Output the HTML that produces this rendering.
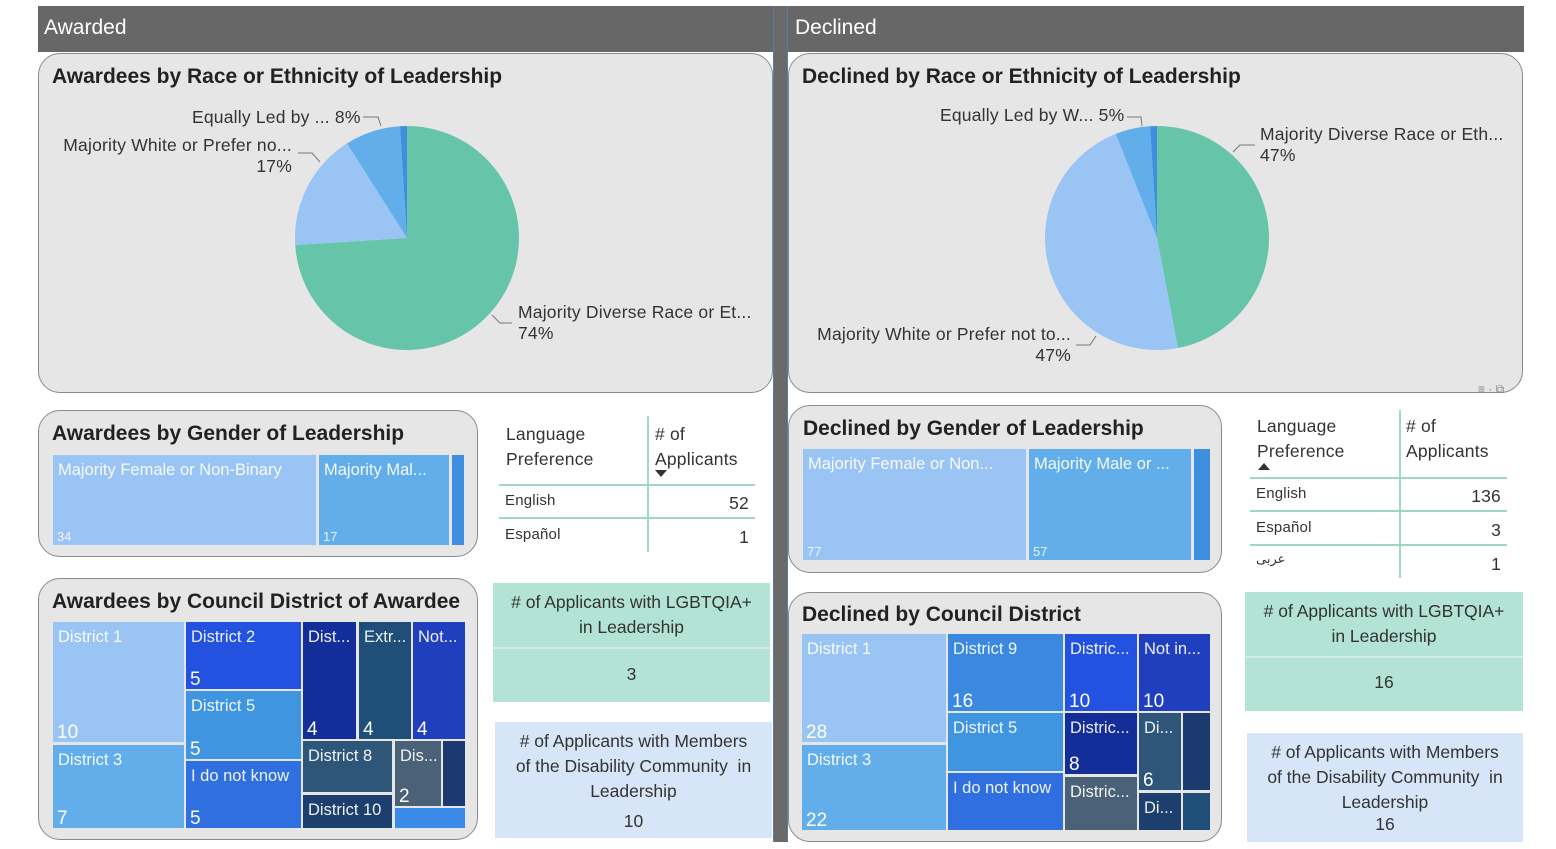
<!DOCTYPE html>
<html><head><meta charset="utf-8"><style>
*{margin:0;padding:0;box-sizing:border-box}
body{width:1556px;height:849px;background:#fff;position:relative;overflow:hidden;font-family:"Liberation Sans","Noto Sans CJK SC",sans-serif;color:#252423}
.a{position:absolute}
.panel{position:absolute;background:#e6e6e6;border:1px solid #8a8a8a;border-radius:22px}
.title{position:absolute;font-weight:bold;font-size:21px;color:#222;white-space:nowrap}
.r{position:absolute;color:#fff;overflow:hidden;white-space:nowrap}
.r .l{position:absolute;left:5px;top:6px;font-size:16.5px;color:rgba(255,255,255,.92)}
.r .v{position:absolute;left:4px;bottom:-2px;font-size:19px}
.r .vs{position:absolute;left:4px;bottom:1px;font-size:13px;color:rgba(255,255,255,.85)}
.t{position:absolute;font-size:17.5px;white-space:nowrap;color:#333;letter-spacing:0.2px}
.hl{position:absolute;height:2px;background:#9fd6c8}
.vl{position:absolute;width:2px;background:#9fd6c8}
.c{position:absolute;text-align:center;font-size:17.5px;color:#333;line-height:25px}
</style></head><body>
<div class="a" style="left:38px;top:6px;width:736px;height:46px;background:#676767"></div>
<div class="a" style="left:788px;top:6px;width:736px;height:46px;background:#676767"></div>
<div class="a" style="left:773px;top:6px;width:15px;height:836px;background:#6a6a6a;border-left:1px solid #5b7aa8;border-right:1px solid #5b7aa8"></div>
<div class="a" style="left:44px;top:16px;font-size:21px;color:#fff">Awarded</div>
<div class="a" style="left:795px;top:16px;font-size:21px;color:#fff">Declined</div>

<div class="panel" style="left:38px;top:53px;width:735px;height:340px"></div>
<div class="panel" style="left:788px;top:53px;width:735px;height:340px"></div>
<div class="title" style="left:52px;top:65px">Awardees by Race or Ethnicity of Leadership</div>
<div class="title" style="left:802px;top:65px">Declined by Race or Ethnicity of Leadership</div>
<svg id="pies" class="a" style="left:0;top:0" width="1556" height="849"></svg>
<div class="t" style="left:192px;top:107px">Equally Led by ... 8%</div>
<div class="t" style="right:1264px;top:135px;text-align:right">Majority White or Prefer no...<br>17%</div>
<div class="t" style="left:518px;top:302px">Majority Diverse Race or Et...<br>74%</div>
<div class="t" style="left:940px;top:105px">Equally Led by W... 5%</div>
<div class="t" style="left:1260px;top:124px">Majority Diverse Race or Eth...<br>47%</div>
<div class="t" style="right:485px;top:324px;text-align:right">Majority White or Prefer not to...<br>47%</div>
<div class="a" style="left:1478px;top:382px;font-size:12px;color:#888">≡ · ⧉</div>

<div class="panel" style="left:38px;top:410px;width:440px;height:147px"></div>
<div class="title" style="left:52px;top:422px">Awardees by Gender of Leadership</div>
<div class="r" style="left:53px;top:455px;width:263px;height:90px;background:#99c4f4"><span class="l">Majority Female or Non-Binary</span><span class="vs">34</span></div>
<div class="r" style="left:319px;top:455px;width:130px;height:90px;background:#62aeea"><span class="l">Majority Mal...</span><span class="vs">17</span></div>
<div class="r" style="left:452px;top:455px;width:12px;height:90px;background:#3f8fe0"></div>

<div class="panel" style="left:788px;top:405px;width:434px;height:168px"></div>
<div class="title" style="left:803px;top:417px">Declined by Gender of Leadership</div>
<div class="r" style="left:803px;top:449px;width:223px;height:111px;background:#99c4f4"><span class="l">Majority Female or Non...</span><span class="vs">77</span></div>
<div class="r" style="left:1029px;top:449px;width:162px;height:111px;background:#62aeea"><span class="l">Majority Male or ...</span><span class="vs">57</span></div>
<div class="r" style="left:1194px;top:449px;width:16px;height:111px;background:#3f8fe0"></div>

<div class="panel" style="left:38px;top:578px;width:440px;height:262px"></div>
<div class="title" style="left:52px;top:590px">Awardees by Council District of Awardee</div>
<div class="r" style="left:53px;top:622px;width:131px;height:120px;background:#99c4f4"><span class="l">District 1</span><span class="v">10</span></div>
<div class="r" style="left:53px;top:745px;width:131px;height:83px;background:#62aeea"><span class="l">District 3</span><span class="v">7</span></div>
<div class="r" style="left:186px;top:622px;width:115px;height:67px;background:#2352e0"><span class="l">District 2</span><span class="v">5</span></div>
<div class="r" style="left:186px;top:691px;width:115px;height:68px;background:#3f95e0"><span class="l">District 5</span><span class="v">5</span></div>
<div class="r" style="left:186px;top:761px;width:115px;height:67px;background:#2f6fe0"><span class="l">I do not know</span><span class="v">5</span></div>
<div class="r" style="left:303px;top:622px;width:53px;height:117px;background:#142e99"><span class="l">Dist...</span><span class="v">4</span></div>
<div class="r" style="left:359px;top:622px;width:52px;height:117px;background:#1f4e79"><span class="l">Extr...</span><span class="v">4</span></div>
<div class="r" style="left:413px;top:622px;width:52px;height:117px;background:#1f3fbf"><span class="l">Not...</span><span class="v">4</span></div>
<div class="r" style="left:303px;top:741px;width:89px;height:51px;background:#2e5678"><span class="l">District 8</span></div>
<div class="r" style="left:303px;top:795px;width:89px;height:33px;background:#1c3f6e"><span class="l">District 10</span></div>
<div class="r" style="left:395px;top:741px;width:46px;height:65px;background:#4a6178"><span class="l">Dis...</span><span class="v">2</span></div>
<div class="r" style="left:443px;top:741px;width:22px;height:65px;background:#1a3a70"></div>
<div class="r" style="left:395px;top:808px;width:70px;height:20px;background:#3a8be8"></div>

<div class="panel" style="left:788px;top:592px;width:434px;height:250px"></div>
<div class="title" style="left:802px;top:603px">Declined by Council District</div>
<div class="r" style="left:802px;top:634px;width:144px;height:108px;background:#99c4f4"><span class="l">District 1</span><span class="v">28</span></div>
<div class="r" style="left:802px;top:745px;width:144px;height:85px;background:#62aeea"><span class="l">District 3</span><span class="v">22</span></div>
<div class="r" style="left:948px;top:634px;width:115px;height:77px;background:#3a88e0"><span class="l">District 9</span><span class="v">16</span></div>
<div class="r" style="left:948px;top:713px;width:115px;height:58px;background:#3f95e0"><span class="l">District 5</span></div>
<div class="r" style="left:948px;top:773px;width:115px;height:57px;background:#2f6fe0"><span class="l">I do not know</span></div>
<div class="r" style="left:1065px;top:634px;width:72px;height:77px;background:#2352e0"><span class="l">Distric...</span><span class="v">10</span></div>
<div class="r" style="left:1139px;top:634px;width:71px;height:77px;background:#1f3fbf"><span class="l">Not in...</span><span class="v">10</span></div>
<div class="r" style="left:1065px;top:713px;width:72px;height:61px;background:#142e99"><span class="l">Distric...</span><span class="v">8</span></div>
<div class="r" style="left:1065px;top:777px;width:72px;height:53px;background:#4a6178"><span class="l">Distric...</span></div>
<div class="r" style="left:1139px;top:713px;width:42px;height:77px;background:#2e5678"><span class="l">Di...</span><span class="v">6</span></div>
<div class="r" style="left:1183px;top:713px;width:27px;height:77px;background:#1a3a70"></div>
<div class="r" style="left:1139px;top:793px;width:42px;height:37px;background:#1c3f6e"><span class="l">Di...</span></div>
<div class="r" style="left:1183px;top:793px;width:27px;height:37px;background:#1f4e79"></div>

<div class="a" style="left:499px;top:416px;width:256px;height:136px">
<div class="vl" style="left:148px;top:0;height:136px"></div>
<div class="t" style="left:7px;top:6px;line-height:25px">Language<br>Preference</div>
<div class="t" style="left:156px;top:6px;line-height:25px"># of<br>Applicants</div>
<div class="a" style="left:156px;top:54px;width:0;height:0;border-left:6px solid transparent;border-right:6px solid transparent;border-top:7px solid #333"></div>
<div class="hl" style="left:0;top:68px;width:256px"></div>
<div class="t" style="left:6px;top:76px;font-size:15px">English</div>
<div class="t" style="right:6px;top:77px">52</div>
<div class="hl" style="left:0;top:101px;width:256px"></div>
<div class="t" style="left:6px;top:110px;font-size:15px">Español</div>
<div class="t" style="right:6px;top:111px">1</div>
</div>
<div class="a" style="left:1250px;top:410px;width:257px;height:168px">
<div class="vl" style="left:149px;top:0;height:168px"></div>
<div class="t" style="left:7px;top:4px;line-height:25px">Language<br>Preference</div>
<div class="t" style="left:156px;top:4px;line-height:25px"># of<br>Applicants</div>
<div class="a" style="left:8px;top:53px;width:0;height:0;border-left:6px solid transparent;border-right:6px solid transparent;border-bottom:7px solid #333"></div>
<div class="hl" style="left:0;top:67px;width:257px"></div>
<div class="t" style="left:6px;top:75px;font-size:15px">English</div>
<div class="t" style="right:6px;top:76px">136</div>
<div class="hl" style="left:0;top:100px;width:257px"></div>
<div class="t" style="left:6px;top:109px;font-size:15px">Español</div>
<div class="t" style="right:6px;top:110px">3</div>
<div class="hl" style="left:0;top:134px;width:257px"></div>
<div class="t" style="left:6px;top:142px;font-size:13px;font-family:'DejaVu Sans',sans-serif">عربى</div>
<div class="t" style="right:6px;top:144px">1</div>
</div>

<div class="a" style="left:493px;top:583px;width:277px;height:119px;background:#b3e3d4">
<div class="c" style="left:0;top:7px;width:277px"># of Applicants with LGBTQIA+<br>in Leadership</div>
<div class="a" style="left:0;top:64px;width:277px;height:2px;background:#d2eee6"></div>
<div class="c" style="left:0;top:79px;width:277px">3</div></div>
<div class="a" style="left:1245px;top:592px;width:278px;height:119px;background:#b3e3d4">
<div class="c" style="left:0;top:7px;width:278px"># of Applicants with LGBTQIA+<br>in Leadership</div>
<div class="a" style="left:0;top:64px;width:278px;height:2px;background:#d2eee6"></div>
<div class="c" style="left:0;top:78px;width:278px">16</div></div>
<div class="a" style="left:495px;top:722px;width:277px;height:116px;background:#d6e6f8">
<div class="c" style="left:0;top:7px;width:277px"># of Applicants with Members<br>of the Disability Community &nbsp;in<br>Leadership</div>
<div class="c" style="left:0;top:87px;width:277px">10</div></div>
<div class="a" style="left:1247px;top:733px;width:276px;height:109px;background:#d6e6f8">
<div class="c" style="left:0;top:7px;width:276px"># of Applicants with Members<br>of the Disability Community &nbsp;in<br>Leadership</div>
<div class="c" style="left:0;top:79px;width:276px">16</div></div>

<script>
const awardedCats=["Majority Diverse","Majority White or Prefer not","Equally Led","Other"];
const awardedVals=[74,17,8,1];
const declinedCats=["Majority Diverse","Majority White or Prefer not","Equally Led","Other"];
const declinedVals=[47,47,5,1];
const sliceColors=["#66c4a8","#99c4f4","#62aeea","#3f8fe0"];
const NS="http://www.w3.org/2000/svg";
const svg=document.getElementById('pies');
function pie(vals,cats,cx,cy,r,prefix){
  const tot=vals.reduce((a,b)=>a+b,0);let a0=0;
  vals.forEach((v,i)=>{
    const a1=a0+v/tot*2*Math.PI;
    const x0=cx+r*Math.sin(a0),y0=cy-r*Math.cos(a0),x1=cx+r*Math.sin(a1),y1=cy-r*Math.cos(a1);
    const p=document.createElementNS(NS,'path');
    p.setAttribute('d',`M${cx},${cy}L${x0},${y0}A${r},${r} 0 ${a1-a0>Math.PI?1:0} 1 ${x1},${y1}Z`);
    p.setAttribute('fill',sliceColors[i]);
    
    
    svg.appendChild(p);a0=a1;
  });
}
pie(awardedVals,awardedCats,407,238,112,'awarded');
pie(declinedVals,declinedCats,1157,238,112,'declined');
function line(pts){const l=document.createElementNS(NS,'polyline');l.setAttribute('points',pts);l.setAttribute('fill','none');l.setAttribute('stroke','#777');svg.appendChild(l);}
line("363,117 378,117 381,126");line("298,153 312,153 320,162");line("512,323 500,323 492,315");
line("1127,117 1141,117 1142,126");line("1233,152 1240,145 1255,145");line("1076,345 1090,345 1096,336");
</script>
</body></html>
